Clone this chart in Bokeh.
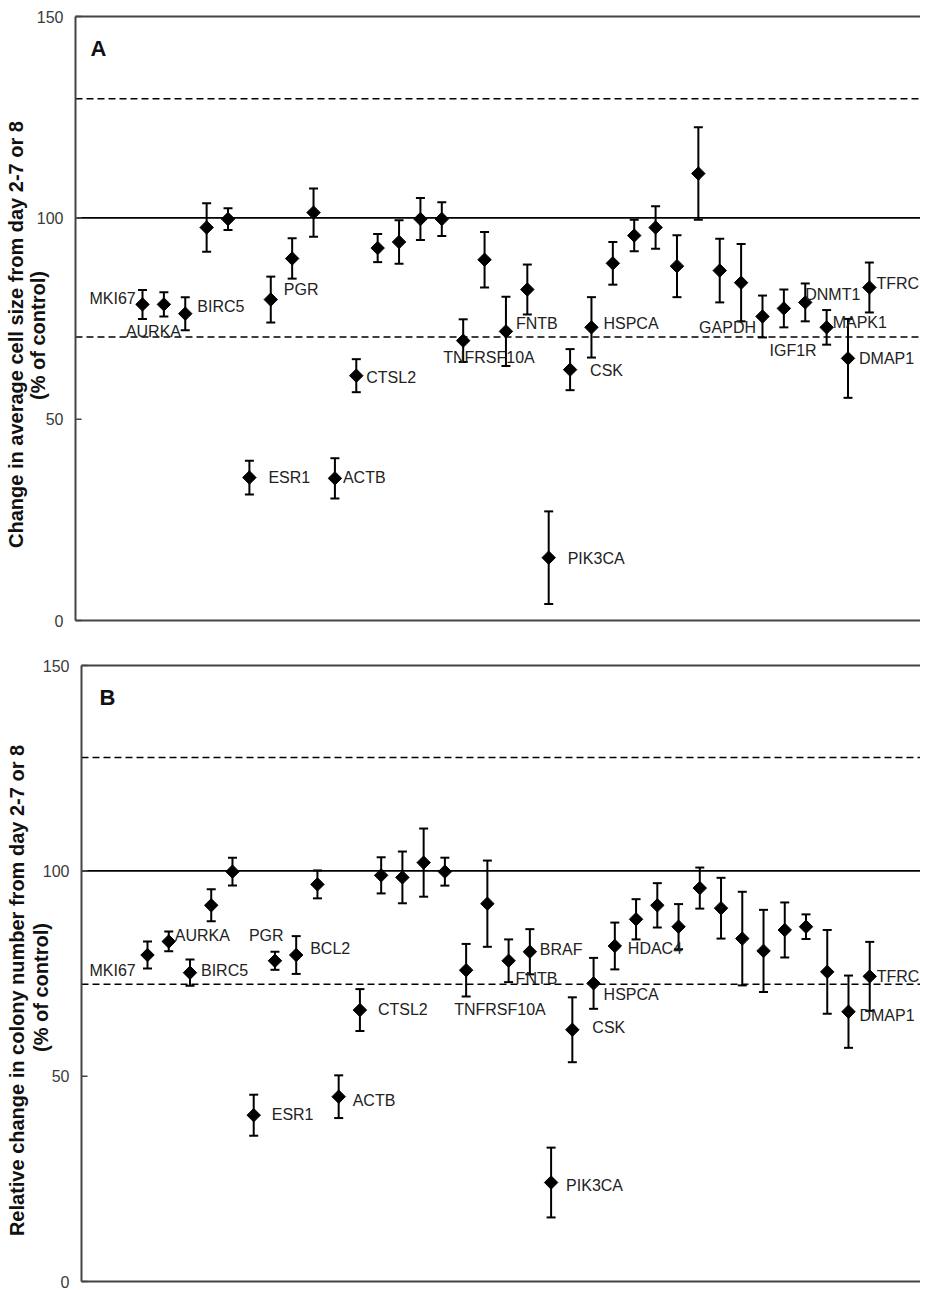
import numpy as np
from bokeh.plotting import figure
from bokeh.models import Range1d
from bokeh.layouts import column
from bokeh.embed import file_html
from bokeh.resources import INLINE
from bokeh.core.properties import value

# ---------------- data ----------------
positions = list(range(1, 36))

a_mean = [78.5, 78.5, 76.2, 97.6, 99.7, 35.5, 79.7, 89.9, 101.3, 35.3,
          60.8, 92.5, 94.0, 99.7, 99.7, 69.5, 89.6, 71.8, 82.2, 15.6,
          62.3, 72.8, 88.7, 95.6, 97.6, 88.0, 111.0, 86.9, 83.9, 75.5,
          77.5, 79.0, 72.8, 65.1, 82.7]
a_err = [3.6, 3.0, 4.1, 6.0, 2.7, 4.2, 5.7, 5.0, 6.0, 5.0,
         4.1, 3.5, 5.4, 5.2, 4.2, 5.3, 6.9, 8.6, 6.2, 11.5,
         5.1, 7.5, 5.3, 3.9, 5.3, 7.7, 11.5, 7.9, 9.6, 5.2,
         4.7, 4.7, 4.3, 9.8, 6.2]

b_mean = [79.5, 82.8, 75.2, 91.6, 99.8, 40.5, 78.1, 79.5, 96.7, 45.0,
          66.1, 98.9, 98.4, 102.0, 99.8, 75.8, 92.0, 78.1, 80.3, 24.1,
          61.3, 72.6, 81.7, 88.2, 91.6, 86.4, 95.8, 90.9, 83.5, 80.5,
          85.6, 86.4, 75.4, 65.7, 74.3]
b_err = [3.3, 2.4, 3.2, 3.9, 3.4, 5.0, 2.2, 4.6, 3.4, 5.2,
         5.1, 4.4, 6.3, 8.3, 3.4, 6.4, 10.5, 5.2, 5.5, 8.5,
         7.9, 6.2, 5.7, 4.9, 5.4, 5.5, 5.0, 7.4, 11.4, 10.0,
         6.7, 3.0, 10.2, 8.8, 8.4]

a_label_names = ["MKI67", "AURKA", "BIRC5", "ESR1", "PGR", "ACTB", "CTSL2",
                 "TNFRSF10A", "FNTB", "PIK3CA", "CSK", "HSPCA", "GAPDH",
                 "IGF1R", "DNMT1", "MAPK1", "DMAP1", "TFRC"]
a_label_pos = [1, 2, 3, 6, 7, 10, 11, 16, 18, 20, 21, 22, 29, 30, 32, 33, 34, 35]

b_label_names = ["MKI67", "AURKA", "BIRC5", "ESR1", "PGR", "BCL2", "ACTB",
                 "CTSL2", "TNFRSF10A", "FNTB", "BRAF", "PIK3CA", "CSK",
                 "HSPCA", "HDAC4", "DMAP1", "TFRC"]
b_label_pos = [1, 2, 3, 6, 7, 8, 10, 11, 16, 18, 19, 20, 21, 22, 23, 34, 35]

y_ticks = [0, 50, 100, 150]
y_tick_labels = ["0", "50", "100", "150"]
y_max = 150
ref_level = 100
a_dash_levels = [129.6, 70.4]
b_dash_levels = [127.6, 72.4]

a_title_lines = ["Change in average cell size from day 2-7 or 8", "(% of control)"]
b_title_lines = ["Relative change in colony number from day 2-7 or 8", "(% of control)"]

# label placement (pixel offsets from the point: left edge of text, vertical centre)
a_label_dx = [-53, -38, 12, 19, 13, 8, 10, -20, 10, 19, 20, 12, -42, 7, 0, 6, 11, 7]
a_label_dy = [-6, 27, -7, 0, -10, -1, 2, 17, -8, 1, 1, -4, 45, 34, -8, -5, 0, -4]
b_label_dx = [-58, 6, 11, 18, -26, 14, 14, 18, -12, 7, 10, 15, 20, 10, 13, 11, 7]
b_label_dy = [15, -6, -2, -1, -25, -7, 4, -1, 39, 18, -2, 3, -2, 11, 3, 4, 0]

FONT = "Liberation Sans"
AX_COL = "#444444"
WIDTH = 920


def make_panel(mean, err, label_names, label_pos, ldx, ldy, dash_levels,
               letter, title_lines, height, region_top, region_bottom,
               region_left, first_px, step_px, title_px, letter_px):
    """The figure's frame is the whole canvas; the plot box (region_*) is drawn
    inside it, so that tick labels and the y title (plain text glyphs) fit too.
    Pixel arguments are relative to the canvas' top-left corner."""
    ppy = (region_bottom - region_top) / y_max
    x_start = 1 - first_px / step_px
    x_end = x_start + WIDTH / step_px
    y_start = -(height - region_bottom) / ppy
    y_end = y_max + region_top / ppy

    def to_x(px):
        return x_start + px / step_px

    def to_y(py):
        return y_max - (py - region_top) / ppy

    p = figure(width=WIDTH, height=height,
               x_range=Range1d(x_start, x_end), y_range=Range1d(y_start, y_end),
               output_backend="svg", toolbar_location=None,
               x_axis_location=None, y_axis_location=None,
               min_border_left=0, min_border_right=0,
               min_border_top=0, min_border_bottom=0)
    p.xgrid.visible = False
    p.ygrid.visible = False
    p.outline_line_color = None
    p.background_fill_color = "white"
    p.border_fill_color = "white"

    x_left = to_x(region_left)

    # reference lines (100 % solid, thresholds dashed)
    p.segment(x0=[x_left], y0=[ref_level], x1=[x_end], y1=[ref_level],
              line_color="black", line_width=1.6)
    p.segment(x0=[x_left] * len(dash_levels), y0=dash_levels,
              x1=[x_end] * len(dash_levels), y1=dash_levels,
              line_color="black", line_width=1.5, line_dash="7 4")

    # plot box: left, top and bottom edges, inward ticks
    p.segment(x0=[x_left, x_left, x_left], y0=[0, y_max, 0],
              x1=[x_left, x_end, x_end], y1=[y_max, y_max, 0],
              line_color=AX_COL, line_width=2)
    p.segment(x0=[x_left] * len(y_ticks), y0=y_ticks,
              x1=[to_x(region_left + 6)] * len(y_ticks), y1=y_ticks,
              line_color=AX_COL, line_width=1.5)
    p.text(x=[to_x(region_left - 12)] * len(y_ticks), y=y_ticks, text=y_tick_labels,
           text_font=value(FONT), text_font_size="16px", text_color="#3a3a3a",
           text_align="right", text_baseline="middle")

    # two-line rotated y title
    p.text(x=[to_x(px) for px, _ in title_px],
           y=[to_y(region_top + py) for _, py in title_px],
           text=title_lines, angle=np.pi / 2,
           text_font=value(FONT), text_font_size="20px", text_font_style="bold",
           text_color="#111111", text_align="center", text_baseline="middle")

    # error bars and means
    lower = [m - e for m, e in zip(mean, err)]
    upper = [m + e for m, e in zip(mean, err)]
    p.segment(x0=positions, y0=lower, x1=positions, y1=upper,
              line_color="black", line_width=2)
    p.scatter(positions, upper, marker="dash", size=9, line_color="black", line_width=2)
    p.scatter(positions, lower, marker="dash", size=9, line_color="black", line_width=2)
    p.scatter(positions, mean, marker="square", angle=np.pi / 4, size=9.5,
              fill_color="black", line_color="black")

    # gene labels
    lx = [positions[i - 1] for i in label_pos]
    ly = [mean[i - 1] for i in label_pos]
    p.text(x=lx, y=ly, text=label_names, x_offset=ldx, y_offset=ldy,
           text_font=value(FONT), text_font_size="16px", text_color="#222222",
           text_align="left", text_baseline="middle")

    # panel letter
    p.text(x=[to_x(region_left + letter_px[0])], y=[to_y(region_top + letter_px[1])],
           text=[letter], text_font=value(FONT), text_font_size="22px",
           text_font_style="bold", text_color="#111111",
           text_align="left", text_baseline="alphabetic")
    return p


pa = make_panel(a_mean, a_err, a_label_names, a_label_pos, a_label_dx, a_label_dy,
                a_dash_levels, "A", a_title_lines,
                height=653, region_top=16, region_bottom=620,
                region_left=75, first_px=142, step_px=21.379,
                title_px=[(15, 318), (37, 319)], letter_px=(15, 32))
pb = make_panel(b_mean, b_err, b_label_names, b_label_pos, b_label_dx, b_label_dy,
                b_dash_levels, "B", b_title_lines,
                height=637, region_top=12, region_bottom=628,
                region_left=81, first_px=147, step_px=21.242,
                title_px=[(16, 325), (40, 322)], letter_px=(18, 32))

layout = column(pa, pb)
open("out.html", "w").write(file_html(layout, INLINE))
